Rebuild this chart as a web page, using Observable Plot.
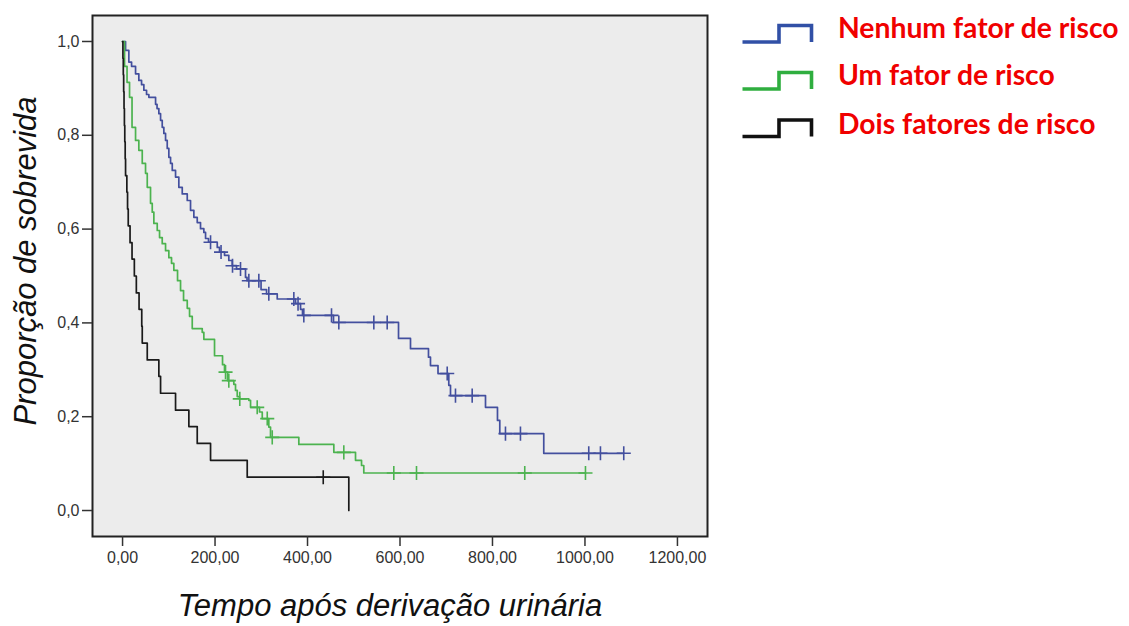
<!DOCTYPE html>
<html>
<head>
<meta charset="utf-8">
<script src="https://cdn.jsdelivr.net/npm/d3@7"></script>
<script src="https://cdn.jsdelivr.net/npm/@observablehq/plot@0.6"></script>
<style>
  html, body { margin: 0; padding: 0; background: #ffffff; }
  #wrap { position: relative; width: 1129px; height: 626px; overflow: hidden; background: #fff; }
  #chart { position: absolute; left: 0; top: 0; }
  #legend { position: absolute; left: 0; top: 0; width: 1129px; height: 160px; pointer-events: none; }
</style>
</head>
<body>
<div id="wrap">
  <div id="chart"></div>
  <svg id="legend" width="1129" height="160"></svg>
</div>
<script>
// ---------- data ----------
const groupNames = ["Nenhum fator de risco", "Um fator de risco", "Dois fatores de risco"];
const groupColors = ["#434f9e", "#4cb34f", "#1a1a1a"];
const legendColors = ["#3150a6", "#2fae3f", "#111111"];

const xTicks = [0, 200, 400, 600, 800, 1000, 1200];
const xTickLabels = ["0,00", "200,00", "400,00", "600,00", "800,00", "1000,00", "1200,00"];
const yTicks = [0, 0.2, 0.4, 0.6, 0.8, 1.0];
const yTickLabels = ["0,0", "0,2", "0,4", "0,6", "0,8", "1,0"];
const xTitle = "Tempo após derivação urinária";
const yTitle = "Proporção de sobrevida";

// Nenhum fator de risco (blue)
const blueTime = [0, 6.5, 13.6, 19.5, 28.1, 35.2, 41.1, 46.1, 51.9, 56.9,
  71.4, 74.6, 78.5, 82.2, 85.8, 89.3, 93.0, 96.6, 100.1, 103.8,
  107.5, 114.6, 121.7, 129.1, 139.9, 147.0, 154.2, 161.5, 168.6, 175.8,
  179.5, 185.9, 204.8, 209.7, 220.5, 229.8, 237.2, 246.5, 265.9, 269.2,
  299.5, 311.4, 334.5, 374.1, 384.9, 389.2, 456.2, 596.8, 622.7, 661.6,
  665.9, 682.2, 705.5, 709.2, 784.9, 810.8, 815.8, 910.9, 1083.9];
const blueSurv = [1, 0.981, 0.956, 0.947, 0.931, 0.917, 0.908, 0.896, 0.887, 0.881,
  0.866, 0.857, 0.846, 0.832, 0.817, 0.804, 0.789, 0.772, 0.753, 0.740,
  0.725, 0.711, 0.689, 0.675, 0.661, 0.640, 0.625, 0.614, 0.601, 0.593,
  0.580, 0.572, 0.561, 0.551, 0.544, 0.533, 0.522, 0.515, 0.497, 0.490,
  0.471, 0.462, 0.451, 0.441, 0.429, 0.416, 0.401, 0.367, 0.345, 0.327,
  0.309, 0.292, 0.267, 0.245, 0.220, 0.192, 0.164, 0.122, 0.122];
const blueCensorTime = [190.3, 213, 237.8, 255.1, 273.1, 294.7, 316.3, 370.4, 379.5, 392,
  451.9, 467.7, 543.4, 572.3, 702.1, 720, 756.1, 828.1, 860.5, 1008.2, 1033.5, 1083.9];
const blueCensorSurv = [0.572, 0.551, 0.522, 0.515, 0.490, 0.490, 0.462, 0.451, 0.441, 0.416,
  0.416, 0.401, 0.401, 0.401, 0.292, 0.245, 0.245, 0.164, 0.164, 0.122, 0.122, 0.122];

// Um fator de risco (green)
const greenTime = [0, 4.3, 9.7, 15.1, 20.5, 28.1, 35.2, 42.6, 49.7, 53.4,
  60.5, 64.2, 67.7, 75.0, 80.0, 85.8, 93.0, 100.1, 105.9, 110.9,
  118.9, 125.4, 131.9, 139.9, 144.9, 150.7, 172.3, 175.8, 198.9, 216.2,
  220.5, 227.0, 240.6, 244.3, 248.0, 253.0, 273.1, 276.8, 296.2, 302.1,
  316.3, 320.0, 381.2, 456.9, 503.8, 516.8, 521.7, 1001.1];
const greenSurv = [1, 0.947, 0.913, 0.881, 0.817, 0.789, 0.768, 0.740, 0.719, 0.689,
  0.655, 0.636, 0.612, 0.597, 0.582, 0.569, 0.554, 0.539, 0.527, 0.512,
  0.490, 0.469, 0.448, 0.431, 0.414, 0.388, 0.380, 0.365, 0.330, 0.311,
  0.295, 0.277, 0.269, 0.256, 0.243, 0.238, 0.235, 0.220, 0.210, 0.196,
  0.178, 0.156, 0.141, 0.124, 0.107, 0.096, 0.080, 0.080];
const greenCensorTime = [222.7, 229.8, 253.5, 291.2, 312.9, 323.7, 478.5, 586.6, 635.7, 869.8, 1001.1];
const greenCensorSurv = [0.295, 0.277, 0.238, 0.220, 0.196, 0.156, 0.124, 0.080, 0.080, 0.080, 0.080];

// Dois fatores de risco (black)
const blackTime = [0, 0.8, 1.6, 2.4, 3.2, 4.0, 4.8, 5.7, 6.5, 9.3,
  10.8, 12.3, 16.2, 20.5, 25.5, 29.8, 35.7, 41.5, 42.6, 53.4,
  78.5, 82.2, 114.6, 143.4, 161.5, 190.3, 269.6, 489.3];
const blackSurv = [1, 0.964, 0.929, 0.893, 0.857, 0.821, 0.786, 0.750, 0.714, 0.679,
  0.643, 0.607, 0.571, 0.536, 0.500, 0.464, 0.429, 0.393, 0.357, 0.321,
  0.286, 0.250, 0.214, 0.179, 0.143, 0.107, 0.071, 0];
const blackCensorTime = [434];
const blackCensorSurv = [0.071];

// ---------- build tables ----------
const toRows = (ts, ss, g) => ts.map((t, i) => ({t, s: ss[i], g}));
const curves = [
  toRows(blueTime, blueSurv, 0),
  toRows(greenTime, greenSurv, 1),
  toRows(blackTime, blackSurv, 2)
];
const censors = [
  toRows(blueCensorTime, blueCensorSurv, 0),
  toRows(greenCensorTime, greenCensorSurv, 1),
  toRows(blackCensorTime, blackCensorSurv, 2)
];

const marks = [
  Plot.frame({fill: "#ececec", stroke: "none"})
];
curves.forEach((rows, g) => {
  marks.push(Plot.line(rows, {x: "t", y: "s", curve: "step-after", stroke: groupColors[g], strokeWidth: 1.7}));
});
censors.forEach((rows, g) => {
  marks.push(Plot.dot(rows, {x: "t", y: "s", symbol: "plus", r: 4.6, stroke: groupColors[g], strokeWidth: 1.6}));
});
marks.push(Plot.frame({stroke: "#222", strokeWidth: 2}));
marks.push(Plot.axisX({ticks: xTicks, tickFormat: (d, i) => xTickLabels[i], tickSize: 10, tickPadding: 5,
  fontSize: 16, label: null, stroke: "#333", strokeWidth: 1.5, color: "#333"}));
marks.push(Plot.axisY({ticks: yTicks, tickFormat: (d, i) => yTickLabels[i], tickSize: 10, tickPadding: 3,
  fontSize: 16, label: null, stroke: "#333", strokeWidth: 1.5, color: "#333"}));
marks.push(Plot.text([xTitle], {text: d => d, frameAnchor: "bottom", textAnchor: "middle", lineAnchor: "middle",
  dx: -10, dy: 70, fontSize: 31, fontStyle: "italic", fill: "#111"}));
marks.push(Plot.text([yTitle], {text: d => d, frameAnchor: "left", textAnchor: "middle", lineAnchor: "middle",
  dx: -66, dy: -15, rotate: -90, fontSize: 31, fontStyle: "italic", fill: "#111"}));

const chart = Plot.plot({
  width: 1129,
  height: 626,
  marginLeft: 92,
  marginRight: 422,
  marginTop: 15,
  marginBottom: 90,
  x: {domain: [-65, 1265]},
  y: {domain: [-0.0554, 1.0554]},
  style: {background: "transparent", fontFamily: "'Liberation Sans', Arial, sans-serif", color: "#333"},
  marks
});
document.getElementById("chart").appendChild(chart);

// ---------- legend ----------
const legend = d3.select("#legend");
const rowBase = [42, 89, 136.5];
const textBase = [38, 85, 133.5];
groupNames.forEach((name, i) => {
  const b = rowBase[i];
  legend.append("path")
    .attr("d", `M742.5,${b}H779V${b - 16.5}H811.5V${b}`)
    .attr("fill", "none")
    .attr("stroke", legendColors[i])
    .attr("stroke-width", 3.6);
  legend.append("text")
    .attr("x", 838)
    .attr("y", textBase[i])
    .attr("fill", "#f00000")
    .attr("font-family", "Lato, 'Open Sans', sans-serif")
    .attr("font-weight", "bold")
    .attr("font-size", 28.3)
    .text(name);
});
</script>
</body>
</html>
